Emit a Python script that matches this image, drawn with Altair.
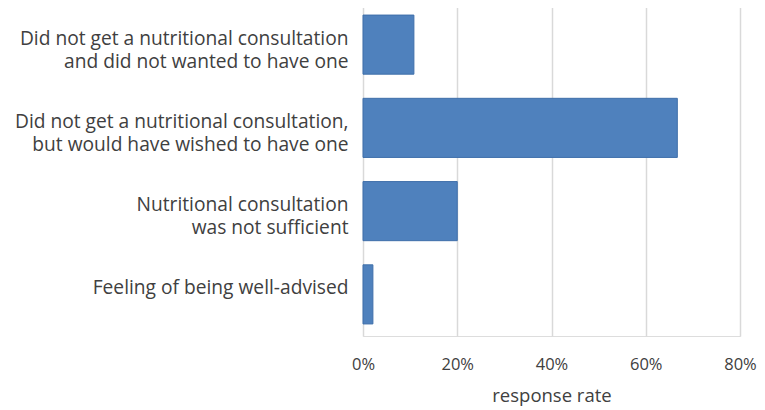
import altair as alt
import pandas as pd

categories = [
    "Did not get a nutritional consultation\nand did not wanted to have one",
    "Did not get a nutritional consultation,\nbut would have wished to have one",
    "Nutritional consultation\nwas not sufficient",
    "Feeling of being well-advised",
]
rates = [0.108, 0.667, 0.20, 0.021]

df = pd.DataFrame({"category": categories, "rate": rates})

FONT = "Open Sans"
TXT = "#404040"

chart = (
    alt.Chart(df)
    .mark_bar(color="#4F81BD", stroke="#3F6FAA", strokeWidth=1)
    .encode(
        x=alt.X(
            "rate:Q",
            scale=alt.Scale(domain=[0, 0.8], nice=False, zero=True),
            axis=alt.Axis(
                title="response rate",
                format=".0%",
                values=[0, 0.2, 0.4, 0.6, 0.8],
                grid=True,
                gridColor="#D9D9D9",
                gridWidth=1.5,
                domain=False,
                ticks=False,
                labelFont=FONT,
                labelFontSize=16.5,
                labelColor=TXT,
                labelPadding=20,
                titleFont=FONT,
                titleFontSize=18.5,
                titleFontWeight="normal",
                titleColor=TXT,
                titlePadding=14,
                labelFlush=False,
            ),
        ),
        y=alt.Y(
            "category:N",
            sort=None,
            scale=alt.Scale(paddingInner=0.29, paddingOuter=0.145),
            axis=alt.Axis(
                title=None,
                domain=False,
                ticks=False,
                grid=False,
                labelExpr="split(datum.label, '\\n')",
                labelFont=FONT,
                labelFontSize=19.2,
                labelColor=TXT,
                labelPadding=15,
                labelLineHeight=23,
                labelOffset=-6,
                labelLimit=400,
                labelAlign="right",
            ),
        ),
    )
    .properties(
        width=377,
        height=333,
        autosize=alt.AutoSizeParams(type="none"),
        padding={"left": 355, "top": -5, "right": 17, "bottom": 70},
    )
    .configure_view(stroke=None)
    .configure(background="white")
)

chart.save("out.html", embed_options={"renderer": "svg", "actions": False})
